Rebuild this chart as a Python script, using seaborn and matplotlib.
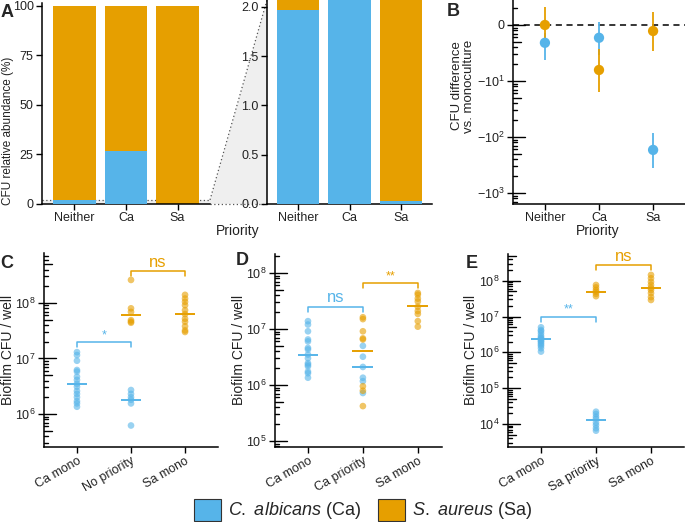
import numpy as np
import pandas as pd
import seaborn as sns
import matplotlib.pyplot as plt
from matplotlib.patches import Patch, Polygon
from matplotlib.lines import Line2D
from matplotlib.ticker import FixedLocator, NullLocator, FuncFormatter

# ---- data -------------------------------------------------------------
CA_COLOR = '#56B4E9'
SA_COLOR = '#E69F00'

# A: relative abundance (%) of C. albicans per priority condition
a_priority = ['Neither', 'Ca', 'Sa']
a_ca_pct = [1.97, 26.6, 0.03]
a_total_pct = [100, 100, 100]
a_zoom_top = 2.07

# B: CFU difference vs. monoculture (point, lower, upper)
b_priority = ['Neither', 'Ca', 'Sa']
b_ca_diff = [-1.6, -1.1, -170]
b_ca_lo = [-4.0, -3.1, -360]
b_ca_hi = [-0.67, 0.25, -85]
b_sa_diff = [0.0, -6.2, -0.5]
b_sa_lo = [-1.6, -15.6, -2.6]
b_sa_hi = [1.6, -2.3, 1.1]

# C: no priority
c_groups = ['Ca mono', 'No priority', 'Sa mono']
c_ca_mono = [1.3e7, 1.15e7, 9.1e6, 6.2e6, 5.8e6, 4.7e6, 4.1e6, 3.5e6, 3.1e6,
             2.6e6, 2.3e6, 2.0e6, 1.7e6, 1.55e6, 1.35e6]
c_mix_ca = [2.7e6, 2.3e6, 2.0e6, 1.8e6, 1.55e6, 6.2e5]
c_mix_sa = [2.6e8, 8.0e7, 6.9e7, 4.9e7, 4.4e7, 4.6e7]
c_sa_mono = [1.4e8, 1.2e8, 1.05e8, 9.1e7, 7.4e7, 6.3e7, 5.2e7, 4.6e7, 3.8e7,
             3.2e7, 3.0e7]
c_ca_center = [3.5e6, 1.75e6]
c_sa_center = [6.0e7, 6.3e7]

# D: Ca priority
d_groups = ['Ca mono', 'Ca priority', 'Sa mono']
d_ca_mono = [1.38e7, 1.2e7, 9.1e6, 6.5e6, 6.0e6, 4.6e6, 4.3e6, 3.5e6, 3.0e6,
             2.45e6, 2.3e6, 2.15e6, 1.74e6, 1.62e6, 1.35e6]
d_mix_ca = [5.0e6, 3.2e6, 2.1e6, 1.35e6, 1.17e6, 7.2e5]
d_mix_sa = [1.62e7, 1.5e7, 9.1e6, 6.8e6, 6.5e6, 9.5e5, 7.9e5, 4.2e5]
d_sa_mono = [4.4e7, 4.1e7, 3.5e7, 3.1e7, 2.5e7, 2.1e7, 1.86e7, 1.38e7, 1.1e7]
d_ca_center = [3.5e6, 2.1e6]
d_sa_center = [4.0e6, 2.6e7]

# E: Sa priority
e_groups = ['Ca mono', 'Sa priority', 'Sa mono']
e_ca_mono = [5.0e6, 4.2e6, 3.9e6, 3.4e6, 2.9e6, 2.6e6, 2.45e6, 2.3e6, 2.1e6,
             2.0e6, 1.8e6, 1.65e6, 1.5e6, 1.3e6, 1.05e6]
e_mix_ca = [2.2e4, 1.9e4, 1.6e4, 1.4e4, 1.1e4, 9.3e3, 7.6e3, 6.5e3]
e_mix_sa = [7.6e7, 6.5e7, 5.5e7, 4.9e7, 4.3e7, 3.7e7]
e_sa_mono = [1.45e8, 1.17e8, 9.3e7, 7.6e7, 6.3e7, 5.5e7, 4.5e7, 3.5e7, 2.9e7]
e_ca_center = [2.3e6, 1.3e4]
e_sa_center = [4.9e7, 6.3e7]

# significance brackets: (x0, x1, y, label, color)
c_brackets = [(0, 1, 2.0e7, '*', CA_COLOR), (1, 2, 3.7e8, 'ns', SA_COLOR)]
d_brackets = [(0, 1, 2.5e7, 'ns', CA_COLOR), (1, 2, 6.6e7, '**', SA_COLOR)]
e_brackets = [(0, 1, 1.0e7, '**', CA_COLOR), (1, 2, 2.75e8, 'ns', SA_COLOR)]

# ---- style ------------------------------------------------------------
sns.set_theme(style='ticks')
plt.rcParams['font.family'] = ['Liberation Sans', 'DejaVu Sans']
plt.rcParams['mathtext.fontset'] = 'custom'
plt.rcParams['mathtext.rm'] = 'Liberation Sans'
plt.rcParams['mathtext.it'] = 'Liberation Sans:italic'
plt.rcParams['mathtext.bf'] = 'Liberation Sans:bold'

W, H = 685, 522
fig = plt.figure(figsize=(W / 100, H / 100), dpi=100)


def box(x0, y0, x1, y1):
    return [x0 / W, 1 - y1 / H, (x1 - x0) / W, (y1 - y0) / H]


def style_axes(ax):
    for s in ['top', 'right']:
        ax.spines[s].set_visible(False)
    for s in ['left', 'bottom']:
        ax.spines[s].set_linewidth(1.1)
        ax.spines[s].set_color('black')
    ax.tick_params(direction='out', length=4, width=1, color='black',
                   labelsize=9, labelcolor='#222222', pad=2)
    ax.set_xlabel('')
    ax.set_ylabel('')
    ax.set_facecolor('none')


def inner_ticks(ax, positions, kinds):
    """log-style ticks drawn inside the panel (long / mid / short)"""
    width_px = ax.get_position().width * W
    lengths = {'long': 12, 'mid': 8, 'short': 4}
    lo, hi = sorted(ax.get_ylim())
    for y, k in zip(positions, kinds):
        if lo <= y <= hi:
            ax.plot([0, lengths[k] / width_px], [y, y], color='black', lw=1,
                    transform=ax.get_yaxis_transform(), clip_on=False, zorder=5)


def log_inner_ticks(ax):
    lo, hi = ax.get_ylim()
    pos, kinds = [], []
    for n in range(int(np.floor(np.log10(lo))), int(np.ceil(np.log10(hi))) + 1):
        for k in range(1, 10):
            pos.append(k * 10.0 ** n)
            kinds.append('long' if k == 1 else 'mid' if k == 5 else 'short')
    inner_ticks(ax, pos, kinds)


def fig_text(x, y, s, **kw):
    fig.text(x / W, 1 - y / H, s, **kw)


# ---- panel A ----------------------------------------------------------
axA1 = fig.add_axes(box(42, 3, 210, 204))
axA2 = fig.add_axes(box(267, 0, 432, 204))
for ax, top, xlim in [(axA1, 101.5, (-0.63, 2.63)), (axA2, a_zoom_top, (-0.6, 2.6))]:
    sns.barplot(x=a_priority, y=a_total_pct, color=SA_COLOR, width=0.83,
                saturation=1, linewidth=0, errorbar=None, ax=ax, zorder=2)
    sns.barplot(x=a_priority, y=a_ca_pct, color=CA_COLOR, width=0.83,
                saturation=1, linewidth=0, errorbar=None, ax=ax, zorder=3)
    ax.set_ylim(0, top)
    ax.set_xlim(*xlim)
    style_axes(ax)
axA1.set_yticks([0, 25, 50, 75, 100])
axA2.set_yticks([0, 0.5, 1.0, 1.5, 2.0])
axA2.yaxis.set_major_formatter(FuncFormatter(lambda v, p: f'{v:.1f}'))
axA1.axhspan(0, a_zoom_top, color='#EFEFEF', zorder=0, lw=0)
axA1.axhline(a_zoom_top, ls=(0, (1, 2)), color='#555555', lw=0.9, zorder=1)

# zoom trapezoid between the two A panels (kept behind the axes)
to_fig = fig.transFigure.inverted()
p1 = to_fig.transform(axA1.transData.transform((2.63, 0)))
p2 = to_fig.transform(axA1.transData.transform((2.63, a_zoom_top)))
p3 = to_fig.transform(axA2.transData.transform((-0.6, a_zoom_top)))
p4 = to_fig.transform(axA2.transData.transform((-0.6, 0)))
fig.patches.append(Polygon([p1, p2, p3, p4], closed=True, facecolor='#EFEFEF',
                           edgecolor='none', transform=fig.transFigure, zorder=-2))
for a, b in [(p2, p3), (p1, p4)]:
    fig.lines.append(Line2D([a[0], b[0]], [a[1], b[1]], ls=(0, (1, 2)), lw=0.9,
                            color='#555555', transform=fig.transFigure, zorder=-1))

fig_text(8, 131, 'CFU relative abundance (%)', rotation=90, ha='center',
         va='center', fontsize=8.5, color='#222222')
fig_text(238, 231, 'Priority', ha='center', va='center', fontsize=10, color='#222222')

# ---- panel B ----------------------------------------------------------
LN10 = np.log(10)


def fwd(y):
    return np.arcsinh(np.asarray(y, dtype=float) / 2) / LN10


def inv(t):
    return 2 * np.sinh(np.asarray(t, dtype=float) * LN10)


axB = fig.add_axes(box(513, 0, 685, 204))
b_df = pd.DataFrame({
    'priority': b_priority * 2,
    'species': ['Ca'] * 3 + ['Sa'] * 3,
    'diff': b_ca_diff + b_sa_diff,
})
xs = np.arange(len(b_priority))
axB.vlines(xs, b_ca_lo, b_ca_hi, color=CA_COLOR, lw=1.3, zorder=2)
axB.vlines(xs, b_sa_lo, b_sa_hi, color=SA_COLOR, lw=1.3, zorder=2)
sns.scatterplot(data=b_df, x='priority', y='diff', hue='species',
                palette={'Ca': CA_COLOR, 'Sa': SA_COLOR}, s=55, linewidth=0,
                legend=False, ax=axB, zorder=3)
axB.set_yscale('function', functions=(fwd, inv))
axB.set_ylim(float(inv(-3.196)), float(inv(0.446)))
axB.set_xlim(-0.59, 2.59)
axB.axhline(0, color='black', lw=1.1, ls=(0, (4, 3)), zorder=1)
style_axes(axB)
axB.set_xticks(xs)
axB.set_xticklabels(b_priority)
b_major_t = [0, -1, -2, -3]
axB.yaxis.set_major_locator(FixedLocator([float(inv(t)) for t in b_major_t]))
axB.yaxis.set_minor_locator(NullLocator())
axB.set_yticklabels(['0', r'$-10^{1}$', r'$-10^{2}$', r'$-10^{3}$'])
b_pos, b_kinds = [], []
for n in range(-4, 1):
    for k in range(1, 10):
        b_pos.append(float(inv(n + np.log10(k))))
        b_kinds.append('long' if k == 1 else 'mid' if k == 5 else 'short')
inner_ticks(axB, b_pos, b_kinds)
fig_text(463, 86, 'CFU difference\nvs. monoculture', rotation=90, ha='center',
         va='center', fontsize=9.5, color='#222222', linespacing=1.0)
fig_text(598, 231, 'Priority', ha='center', va='center', fontsize=10, color='#222222')


# ---- panels C, D, E ---------------------------------------------------
def cfu_panel(rect, groups, ca_mono, mix_ca, mix_sa, sa_mono, ca_center,
              sa_center, brackets, ylim_exp, xlim, decades):
    ax = fig.add_axes(box(*rect))
    df = pd.DataFrame({
        'group': [groups[0]] * len(ca_mono) + [groups[1]] * len(mix_ca)
                 + [groups[1]] * len(mix_sa) + [groups[2]] * len(sa_mono),
        'species': ['Ca'] * (len(ca_mono) + len(mix_ca))
                   + ['Sa'] * (len(mix_sa) + len(sa_mono)),
        'cfu': ca_mono + mix_ca + mix_sa + sa_mono,
    })
    sns.stripplot(data=df, x='group', y='cfu', hue='species', order=groups,
                  palette={'Ca': CA_COLOR, 'Sa': SA_COLOR}, jitter=False,
                  size=4.8, alpha=0.6, linewidth=0, legend=False, ax=ax, zorder=3)
    ax.set_yscale('log')
    ax.set_ylim(10 ** ylim_exp[0], 10 ** ylim_exp[1])
    ax.set_xlim(*xlim)
    ax.hlines(ca_center, [-0.19, 0.81], [0.19, 1.19], color=CA_COLOR, lw=1.4, zorder=4)
    ax.hlines(sa_center, [0.81, 1.81], [1.19, 2.19], color=SA_COLOR, lw=1.4, zorder=4)
    style_axes(ax)
    ax.yaxis.set_major_locator(FixedLocator([10.0 ** d for d in decades]))
    ax.yaxis.set_minor_locator(NullLocator())
    ax.yaxis.set_major_formatter(FuncFormatter(lambda v, p: r'$10^{%d}$' % round(np.log10(v))))
    ax.set_xticks(range(3))
    ax.set_xticklabels(groups, rotation=30, ha='right', rotation_mode='anchor')
    log_inner_ticks(ax)
    for x0, x1, y, label, color in brackets:
        yd = ax.transData.transform((0, y))[1]
        y_low = ax.transData.inverted().transform((0, yd - 5))[1]
        ax.plot([x0, x0, x1, x1], [y_low, y, y, y_low], color=color, lw=1.1,
                zorder=4, clip_on=False)
        small = label != 'ns'
        ax.annotate(label, ((x0 + x1) / 2, y), xytext=(0, 0.5 if small else 1),
                    textcoords='offset points', ha='center', va='bottom',
                    color=color, fontsize=9 if small else 12)
    return ax


axC = cfu_panel((44, 253, 218, 447), c_groups, c_ca_mono, c_mix_ca, c_mix_sa,
                c_sa_mono, c_ca_center, c_sa_center, c_brackets,
                (5.405, 8.90), (-0.61, 2.61), [6, 7, 8])
axD = cfu_panel((275, 254, 442, 447), d_groups, d_ca_mono, d_mix_ca, d_mix_sa,
                d_sa_mono, d_ca_center, d_sa_center, d_brackets,
                (4.893, 8.339), (-0.6, 2.44), [5, 6, 7, 8])
axE = cfu_panel((508, 254, 684, 447), e_groups, e_ca_mono, e_mix_ca, e_mix_sa,
                e_sa_mono, e_ca_center, e_sa_center, e_brackets,
                (3.357, 8.746), (-0.6, 2.6), [4, 5, 6, 7, 8])

for x in [8, 239, 471]:
    fig_text(x, 350, 'Biofilm CFU / well', rotation=90, ha='center', va='center',
             fontsize=10, color='#222222')

# panel letters
for x, y, s in [(1, 4, 'A'), (447, 3, 'B'), (0, 255, 'C'), (236, 252, 'D'), (466, 255, 'E')]:
    fig_text(x, y, s, fontsize=13, fontweight='bold', ha='left', va='top')

# ---- legend -----------------------------------------------------------
handles = [Patch(facecolor=CA_COLOR, edgecolor='#333333', lw=0.8),
           Patch(facecolor=SA_COLOR, edgecolor='#333333', lw=0.8)]
labels = [r'$\mathit{C.\ albicans}$ (Ca)', r'$\mathit{S.\ aureus}$ (Sa)']
fig.legend(handles, labels, loc='center', bbox_to_anchor=(363 / W, 1 - 510 / H),
           ncol=2, frameon=False, fontsize=13, handlelength=1.5, handleheight=1.5,
           handletextpad=0.4, columnspacing=0.9, borderpad=0)

fig.savefig('out.png', dpi=100)
